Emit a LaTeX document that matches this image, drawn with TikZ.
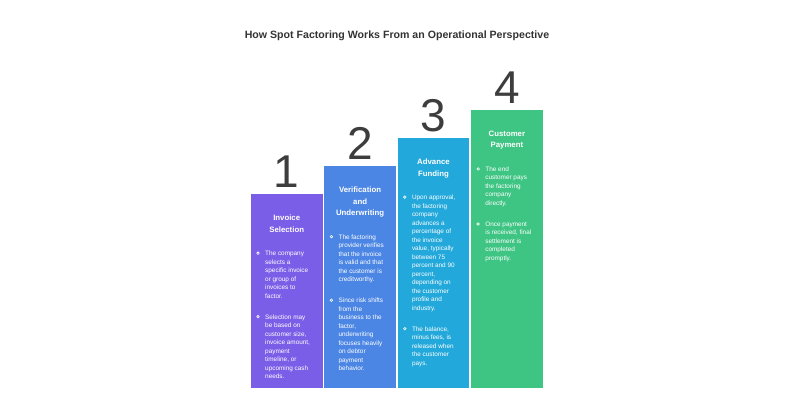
\documentclass[tikz,border=0pt]{standalone}
\usepackage{fontspec}
\setmainfont{Liberation Sans}
\usetikzlibrary{positioning,calc}

\definecolor{stepA}{HTML}{7B5EE7}
\definecolor{stepB}{HTML}{4C86E4}
\definecolor{stepC}{HTML}{22A8DA}
\definecolor{stepD}{HTML}{3EC483}
\definecolor{titlegray}{HTML}{333333}
\definecolor{numgray}{HTML}{3D3D3D}

\begin{document}
\begin{tikzpicture}[
  x=1pt, y=1pt,
  node distance=6pt,
  colbox/.style ={draw=white, line width=0.8pt, minimum width=72.6pt,
                  inner sep=0pt, anchor=south west},
  num/.style    ={font=\fontsize{46}{46}\selectfont, text=numgray,
                  inner sep=0pt, text depth=0pt},
  head/.style   ={font=\bfseries\fontsize{7.8}{11.5}\selectfont, text=white,
                  align=center, inner sep=0pt, text depth=0pt},
  body/.style   ={font=\fontsize{6.4}{8.5}\selectfont, text=white,
                  align=left, inner sep=0pt, text depth=0pt, anchor=north west},
  dot/.style    ={draw=white, line width=0.6pt},
]
  \useasboundingbox (0,0) rectangle (800,400);

  \node[font=\bfseries\fontsize{10.6}{12}\selectfont, text=titlegray] (title) at (397,364)
    {How Spot Factoring Works From an Operational Perspective};

  % steps
  \node[colbox, fill=stepA, minimum height=195pt] (col1) at (250,11) {};
  \node[colbox, fill=stepB, minimum height=223pt] (col2) at (col1.south east) {};
  \node[colbox, fill=stepC, minimum height=251pt] (col3) at (col2.south east) {};
  \node[colbox, fill=stepD, minimum height=279pt] (col4) at (col3.south east) {};

  \node[num, above=6pt of col1] (num1) {1};
  \node[num, above=6pt of col2] (num2) {2};
  \node[num, above=6pt of col3] (num3) {3};
  \node[num, above=6pt of col4] (num4) {4};

  \node[head, below=21.5pt of col1.north] (head1) {Invoice\\Selection};
  \node[head, below=21.5pt of col2.north] (head2) {Verification\\and\\Underwriting};
  \node[head, below=21.5pt of col3.north] (head3) {Advance\\Funding};
  \node[head, below=21.5pt of col4.north] (head4) {Customer\\Payment};

  % bullet texts
  \node[body] (b1a) at ($(col1.west |- head1.south)+(15,-18.5)$)
    {The company\\selects a\\specific invoice\\or group of\\invoices to\\factor.};
  \node[body, below=16pt of b1a.south west, anchor=north west] (b1b)
    {Selection may\\be based on\\customer size,\\invoice amount,\\payment\\timeline, or\\upcoming cash\\needs.};

  \node[body] (b2a) at ($(col2.west |- head2.south)+(15,-18.5)$)
    {The factoring\\provider verifies\\that the invoice\\is valid and that\\the customer is\\creditworthy.};
  \node[body, below=16pt of b2a.south west, anchor=north west] (b2b)
    {Since risk shifts\\from the\\business to the\\factor,\\underwriting\\focuses heavily\\on debtor\\payment\\behavior.};

  \node[body] (b3a) at ($(col3.west |- head3.south)+(15,-18.5)$)
    {Upon approval,\\the factoring\\company\\advances a\\percentage of\\the invoice\\value, typically\\between 75\\percent and 90\\percent,\\depending on\\the customer\\profile and\\industry.};
  \node[body, below=16pt of b3a.south west, anchor=north west] (b3b)
    {The balance,\\minus fees, is\\released when\\the customer\\pays.};

  \node[body] (b4a) at ($(col4.west |- head4.south)+(15,-18.5)$)
    {The end\\customer pays\\the factoring\\company\\directly.};
  \node[body, below=16pt of b4a.south west, anchor=north west] (b4b)
    {Once payment\\is received, final\\settlement is\\completed\\promptly.};

  \foreach \b in {b1a,b1b,b2a,b2b,b3a,b3b,b4a,b4b}
    \draw[dot] ([xshift=-7pt,yshift=-2.4pt]\b.north west) circle (1.3pt);
\end{tikzpicture}
\end{document}
